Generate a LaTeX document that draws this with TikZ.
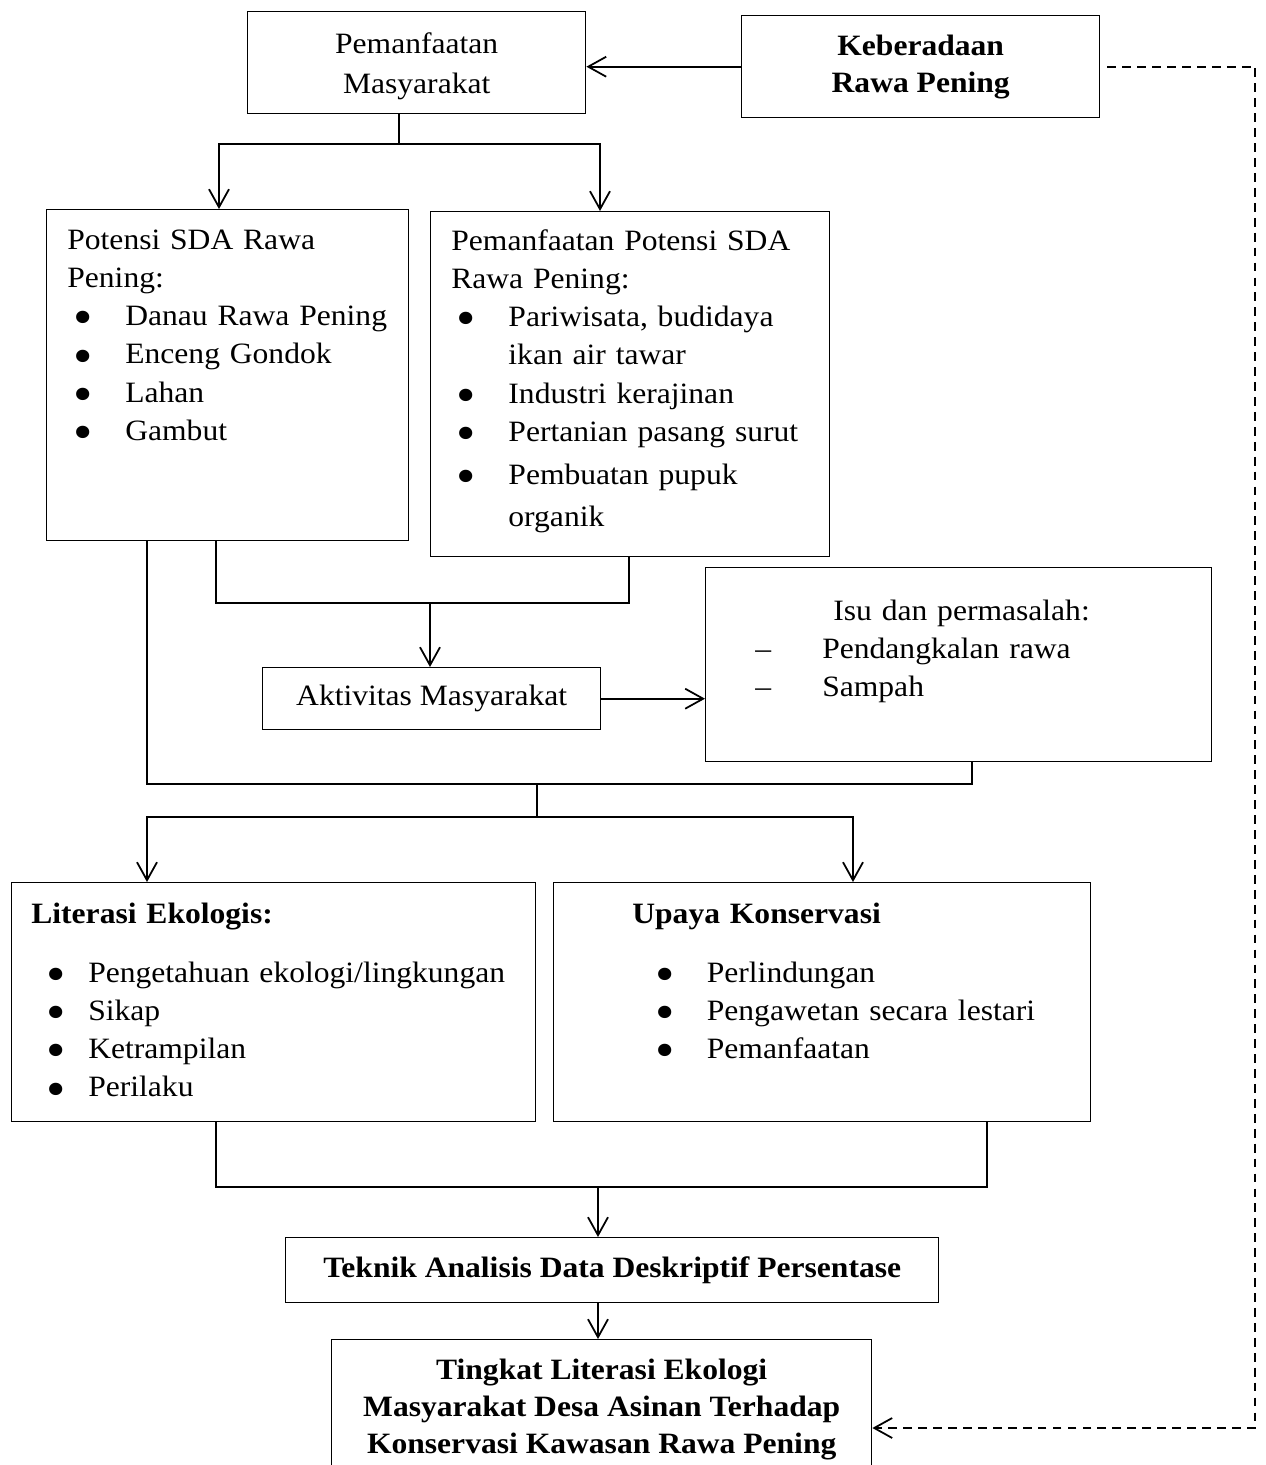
\documentclass[tikz,border=0pt]{standalone}
\usepackage{fontspec}
\usepackage{graphicx}
\setmainfont{Liberation Serif}[FakeStretch=1.07]
\usetikzlibrary{arrows.meta}

\newcommand{\unitpx}{0.02cm}
\newcommand{\bitem}[2]{\makebox[#2][l]{\hspace*{#1}\smash{\raisebox{-0.31em}{\scalebox{1.75}{\textbullet}}}}}
\newcommand{\ditem}{\makebox[38.1pt][l]{--}}

\begin{document}
\begin{tikzpicture}[
    x=\unitpx, y=-\unitpx,
    every node/.style={font=\fontsize{16.8pt}{21.8pt}\selectfont},
    box/.style 2 args={draw, line width=0.8pt, inner sep=0pt, anchor=north west,
        minimum width=#1*\unitpx, minimum height=#2*\unitpx, align=center},
    txt/.style={anchor=base west, inner sep=0pt, text width=#1*\unitpx, align=left},
    conn/.style={line width=1pt},
    arr/.style={conn, -{Straight Barb[length=3.6mm, width=4mm]}},
    dasharr/.style={arr, dash pattern=on 5pt off 3.5pt}
]
    \useasboundingbox (0,0) rectangle (1266,1465);

    % boxes
    \node[box={338}{102}, font=\fontsize{16.8pt}{23pt}\selectfont] (pemanf) at (247,11) {\rule{0pt}{16pt}Pemanfaatan\\Masyarakat};
    \node[box={358}{102}, font=\fontsize{16.8pt}{21pt}\selectfont\bfseries] (kebera) at (741,15) {Keberadaan\\Rawa Pening};
    \node[box={362}{331}] (potensi) at (46,209) {};
    \node[box={399}{345}] (pemPot) at (430,211) {};
    \node[box={338}{62}] (aktiv) at (262,667) {Aktivitas Masyarakat};
    \node[box={506}{194}] (isu) at (705,567) {};
    \node[box={524}{239}] (lit) at (11,882) {};
    \node[box={537}{239}] (upaya) at (553,882) {};
    \node[box={653}{65}, font=\fontsize{16.8pt}{21pt}\selectfont\bfseries] (teknik) at (285,1237) {Teknik Analisis Data Deskriptif Persentase};
    \node[box={540}{140}, font=\fontsize{16.8pt}{21pt}\selectfont\bfseries] (tingkat) at (331,1339) {Tingkat Literasi Ekologi\\Masyarakat Desa Asinan Terhadap\\Konservasi Kawasan Rawa Pening};

    % texts inside the boxes
    \node[txt=340] (potensiT) at (67,249) {Potensi SDA Rawa\\Pening:\\
        \bitem{3.4pt}{33pt}Danau Rawa Pening\\
        \bitem{3.4pt}{33pt}Enceng Gondok\\
        \bitem{3.4pt}{33pt}Lahan\\
        \bitem{3.4pt}{33pt}Gambut};
    \node[txt=370] (pemPotT) at (451,250) {Pemanfaatan Potensi SDA\\Rawa Pening:\\
        \bitem{2.9pt}{32.5pt}Pariwisata, budidaya\\
        \hspace*{32.5pt}ikan air tawar\\
        \bitem{2.9pt}{32.5pt}Industri kerajinan\\
        \bitem{2.9pt}{32.5pt}Pertanian pasang surut\\[2.5pt]
        \bitem{2.9pt}{32.5pt}Pembuatan pupuk\\[2.5pt]
        \hspace*{32.5pt}organik};
    \node[txt=440] (isuT) at (755,620) {\hspace*{44.4pt}Isu dan permasalah:\\
        \ditem Pendangkalan rawa\\
        \ditem Sampah};
    \node[txt=490] (litT) at (31,923) {\textbf{Literasi Ekologis:}\\[11.8pt]
        \bitem{8.5pt}{32.4pt}Pengetahuan ekologi/lingkungan\\
        \bitem{8.5pt}{32.4pt}Sikap\\
        \bitem{8.5pt}{32.4pt}Ketrampilan\\
        \bitem{8.5pt}{32.4pt}Perilaku};
    \node[txt=440] (upayaT) at (632,923) {\textbf{Upaya Konservasi}\\[11.8pt]
        \bitem{13pt}{42.4pt}Perlindungan\\
        \bitem{13pt}{42.4pt}Pengawetan secara lestari\\
        \bitem{13pt}{42.4pt}Pemanfaatan};

    % junctions
    \coordinate (jA) at (399,144);
    \coordinate (jB) at (430,603);
    \coordinate (jC) at (537,784);
    \coordinate (jD) at (537,817);
    \coordinate (jE) at (598,1187);
    \coordinate (dashC) at (1255,1428);

    % connectors
    \draw[arr] (kebera.west) -- (kebera.west -| pemanf.east);
    \draw[conn] (399,0 |- pemanf.south) -- (jA);
    \draw[arr] (jA) -| (219,0 |- potensi.north);
    \draw[arr] (jA) -| (600,0 |- pemPot.north);
    \draw[conn] (216,0 |- potensi.south) |- (jB) -| (629,0 |- pemPot.south);
    \draw[arr] (jB) -- (jB |- aktiv.north);
    \draw[arr] (aktiv.east) -- (aktiv.east -| isu.west);
    \draw[conn] (147,0 |- potensi.south) |- (jC) -| (972,0 |- isu.south);
    \draw[conn] (jC) -- (jD);
    \draw[arr] (jD) -| (147,0 |- lit.north);
    \draw[arr] (jD) -| (853,0 |- upaya.north);
    \draw[conn] (216,0 |- lit.south) |- (jE) -| (987,0 |- upaya.south);
    \draw[arr] (jE) -- (jE |- teknik.north);
    \draw[arr] (jE |- teknik.south) -- (jE |- tingkat.north);
    \draw[dasharr] ([xshift=0.14cm]kebera.east) -| (dashC) -- (dashC -| tingkat.east);

\end{tikzpicture}
\end{document}
